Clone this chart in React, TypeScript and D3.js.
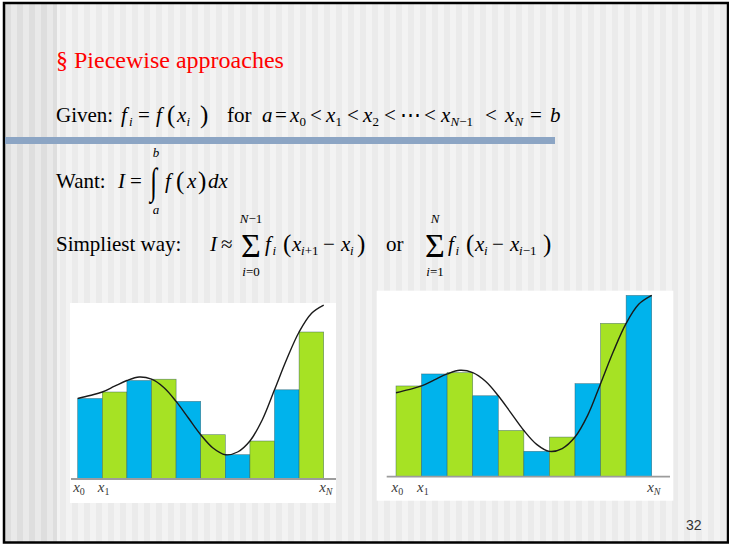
import React from 'react';
import * as d3 from 'd3';

// f evaluated at the grid nodes x0 … xN (N = 10)
const nodeValues = [80.5, 87, 98.5, 99.8, 77.6, 44.3, 24.3, 38, 89.2, 147, 173.8];
// f evaluated halfway between consecutive nodes (for drawing the smooth curve)
const midValues = [83.5, 92.8, 102, 91.5, 61, 31, 27, 59, 120, 165.5];
// node labels under each axis
const axisLabelNodes = [0, 1, 10];
const axisLabelSubs = ['0', '1', 'N'];

const BLUE = '#00b3ec';
const GREEN = '#a6e224';
const SERIF = "'Liberation Serif', Tinos, 'Times New Roman', 'Nimbus Roman', 'DejaVu Serif', serif";
const SANS = "'Liberation Sans', Arimo, Arial, 'DejaVu Sans', sans-serif";

type Sample = { k: number; v: number };
const curveSamples: Sample[] = [];
nodeValues.forEach((v, i) => {
  curveSamples.push({ k: i, v });
  if (i < midValues.length) curveSamples.push({ k: i + 0.5, v: midValues[i] });
});

type PanelGeom = {
  x: number; y: number; w: number; h: number;
  xStart: number; xEnd: number; base: number; unit: number;
  axisFrom: number; axisTo: number; labelY: number;
};

function RiemannPanel({ g, rule }: { g: PanelGeom; rule: 'left' | 'right' }) {
  const xs = d3.scaleLinear().domain([0, 10]).range([g.xStart, g.xEnd]);
  const ys = d3.scaleLinear().domain([0, 100]).range([g.base, g.base - 100 * g.unit]);
  const bars = d3.range(10).map((i) => ({
    i,
    v: rule === 'left' ? nodeValues[i] : nodeValues[i + 1],
  }));
  const line = d3
    .line<Sample>()
    .x((d) => xs(d.k))
    .y((d) => ys(d.v))
    .curve(d3.curveCatmullRom.alpha(0.5));
  const colorOf = (i: number) =>
    rule === 'left' ? (i % 2 === 0 ? BLUE : GREEN) : i % 2 === 0 ? GREEN : BLUE;
  return (
    <g>
      <rect x={g.x} y={g.y} width={g.w} height={g.h} fill="#ffffff" />
      {bars.map((b) => (
        <rect
          key={b.i}
          x={xs(b.i)}
          y={ys(b.v)}
          width={xs(b.i + 1) - xs(b.i)}
          height={ys(0) - ys(b.v)}
          fill={colorOf(b.i)}
          stroke="#2d5560"
          strokeWidth={0.6}
          strokeOpacity={0.7}
        />
      ))}
      <line x1={g.axisFrom} x2={g.axisTo} y1={g.base} y2={g.base} stroke="#9c9c9c" strokeWidth={1.8} />
      <path d={line(curveSamples) || ''} fill="none" stroke="#1a1a1a" strokeWidth={1.4} />
      {axisLabelNodes.map((n, j) => (
        <text key={n} x={xs(n) - 4.5} y={g.labelY} style={{ fontFamily: SERIF, fontStyle: 'italic', fontSize: 15 }} fill="#3a3a3a">
          x
          <tspan dy={3} style={{ fontSize: 10, fontStyle: axisLabelSubs[j] === 'N' ? 'italic' : 'normal' }}>
            {axisLabelSubs[j]}
          </tspan>
        </text>
      ))}
    </g>
  );
}

function T({
  x, y, size = 21, it = false, anchor = 'start', children, fill = '#000', sy = 1,
}: {
  x: number; y: number; size?: number; it?: boolean; anchor?: string; children: React.ReactNode; fill?: string; sy?: number;
}) {
  return (
    <text
      transform={`translate(${x},${y}) scale(1,${sy})`}
      textAnchor={anchor as any}
      fill={fill}
      style={{ fontFamily: SERIF, fontSize: size, fontStyle: it ? 'italic' : 'normal' }}
    >
      {children}
    </text>
  );
}

const up = (s: string) => <tspan style={{ fontStyle: 'normal' }}>{s}</tspan>;

export default function App() {
  const leftGeom: PanelGeom = {
    x: 70, y: 303, w: 266, h: 200,
    xStart: 77.7, xEnd: 323.7, base: 479, unit: 1,
    axisFrom: 71, axisTo: 336, labelY: 492,
  };
  const rightGeom: PanelGeom = {
    x: 376.7, y: 290.7, w: 296.6, h: 210,
    xStart: 396, xEnd: 651.7, base: 476.7, unit: 1.043,
    axisFrom: 386.7, axisTo: 670, labelY: 491.5,
  };
  const SUB = 13;
  const y1 = 122;
  const y2 = 188;
  const y3 = 251;
  return (
    <svg width={729} height={544} style={{ position: 'absolute', left: 0, top: 0 }}>
      <defs>
        <pattern id="stripesMain" patternUnits="userSpaceOnUse" width={12} height={10}>
          <rect width={12} height={10} fill="#f3f3f3" />
          <rect width={6} height={10} fill="#ebebeb" />
        </pattern>
        <pattern id="stripesSide" patternUnits="userSpaceOnUse" width={12} height={10} x={5}>
          <rect width={12} height={10} fill="#e9e9e9" />
          <rect width={6} height={10} fill="#dedede" />
        </pattern>
      </defs>
      <rect width={729} height={544} fill="#ffffff" />
      <rect x={4} y={3} width={724} height={539.5} fill="url(#stripesMain)" />
      <rect x={4} y={3} width={53} height={539.5} fill="url(#stripesSide)" />
      <rect x={4} y={3} width={724} height={539.5} fill="none" stroke="#000" strokeWidth={2.5} />

      {/* title */}
      <T x={56} y={68} size={24} fill="#ff0000">§ Piecewise approaches</T>

      {/* Given line */}
      <T x={56} y={y1}>Given:</T>
      <T x={121} y={y1} it>f</T>
      <T x={129} y={y1 + 4} size={SUB} it>i</T>
      <T x={138} y={y1}>=</T>
      <T x={156} y={y1} it>f</T>
      <T x={167} y={y1 + 1} size={25}>(</T>
      <T x={177} y={y1} it>x</T>
      <T x={186.5} y={y1 + 4} size={SUB} it>i</T>
      <T x={200} y={y1 + 1} size={25}>)</T>
      <T x={227} y={y1}>for</T>
      <T x={262} y={y1} it>a</T>
      <T x={275} y={y1}>=</T>
      <T x={290} y={y1} it>x</T>
      <T x={299.5} y={y1 + 4} size={SUB}>0</T>
      <T x={310} y={y1}>&lt;</T>
      <T x={326} y={y1} it>x</T>
      <T x={335.5} y={y1 + 4} size={SUB}>1</T>
      <T x={347} y={y1}>&lt;</T>
      <T x={363} y={y1} it>x</T>
      <T x={372.5} y={y1 + 4} size={SUB}>2</T>
      <T x={384} y={y1}>&lt;</T>
      <T x={400} y={y1}>⋯</T>
      <T x={424} y={y1}>&lt;</T>
      <T x={441} y={y1} it>x</T>
      <T x={450.5} y={y1 + 4} size={SUB} it>N{up('−1')}</T>
      <T x={485} y={y1}>&lt;</T>
      <T x={505} y={y1} it>x</T>
      <T x={514.5} y={y1 + 4} size={SUB} it>N</T>
      <T x={530} y={y1}>=</T>
      <T x={550} y={y1} it>b</T>

      {/* rule under the Given line */}
      <rect x={5} y={137} width={550} height={7} fill="#8ca5c4" />

      {/* Want line */}
      <T x={56} y={y2}>Want:</T>
      <T x={118} y={y2} it>I</T>
      <T x={130} y={y2}>=</T>
      <T x={150} y={194} size={25} sy={1.5}>∫</T>
      <T x={156} y={157} size={SUB} it anchor="middle">b</T>
      <T x={156} y={214} size={SUB} it anchor="middle">a</T>
      <T x={165} y={y2} it>f</T>
      <T x={176} y={y2 + 1} size={25}>(</T>
      <T x={187} y={y2} it>x</T>
      <T x={198} y={y2 + 1} size={25}>)</T>
      <T x={208} y={y2} it>dx</T>

      {/* Simpliest way line */}
      <T x={56} y={y3}>Simpliest way:</T>
      <T x={210} y={y3} it>I</T>
      <T x={221} y={y3}>≈</T>
      <T x={251} y={257} size={34} anchor="middle">Σ</T>
      <T x={251} y={223} size={SUB} anchor="middle" it>N{up('−1')}</T>
      <T x={251} y={276} size={SUB} anchor="middle" it>i{up('=0')}</T>
      <T x={265} y={y3} it>f</T>
      <T x={272.5} y={y3 + 4} size={SUB} it>i</T>
      <T x={283} y={y3 + 1} size={25}>(</T>
      <T x={292} y={y3} it>x</T>
      <T x={301} y={y3 + 4} size={SUB} it>i{up('+1')}</T>
      <T x={323} y={y3}>−</T>
      <T x={341} y={y3} it>x</T>
      <T x={350} y={y3 + 4} size={SUB} it>i</T>
      <T x={357} y={y3 + 1} size={25}>)</T>
      <T x={386} y={y3}>or</T>
      <T x={435} y={257} size={34} anchor="middle">Σ</T>
      <T x={435} y={223} size={SUB} anchor="middle" it>N</T>
      <T x={435} y={276} size={SUB} anchor="middle" it>i{up('=1')}</T>
      <T x={448} y={y3} it>f</T>
      <T x={455.5} y={y3 + 4} size={SUB} it>i</T>
      <T x={466} y={y3 + 1} size={25}>(</T>
      <T x={475} y={y3} it>x</T>
      <T x={484} y={y3 + 4} size={SUB} it>i</T>
      <T x={492} y={y3}>−</T>
      <T x={510} y={y3} it>x</T>
      <T x={519} y={y3 + 4} size={SUB} it>i{up('−1')}</T>
      <T x={543} y={y3 + 1} size={25}>)</T>

      <RiemannPanel g={leftGeom} rule="left" />
      <RiemannPanel g={rightGeom} rule="right" />

      <text x={686} y={530} fill="#333" style={{ fontFamily: SANS, fontSize: 14 }}>32</text>
    </svg>
  );
}
